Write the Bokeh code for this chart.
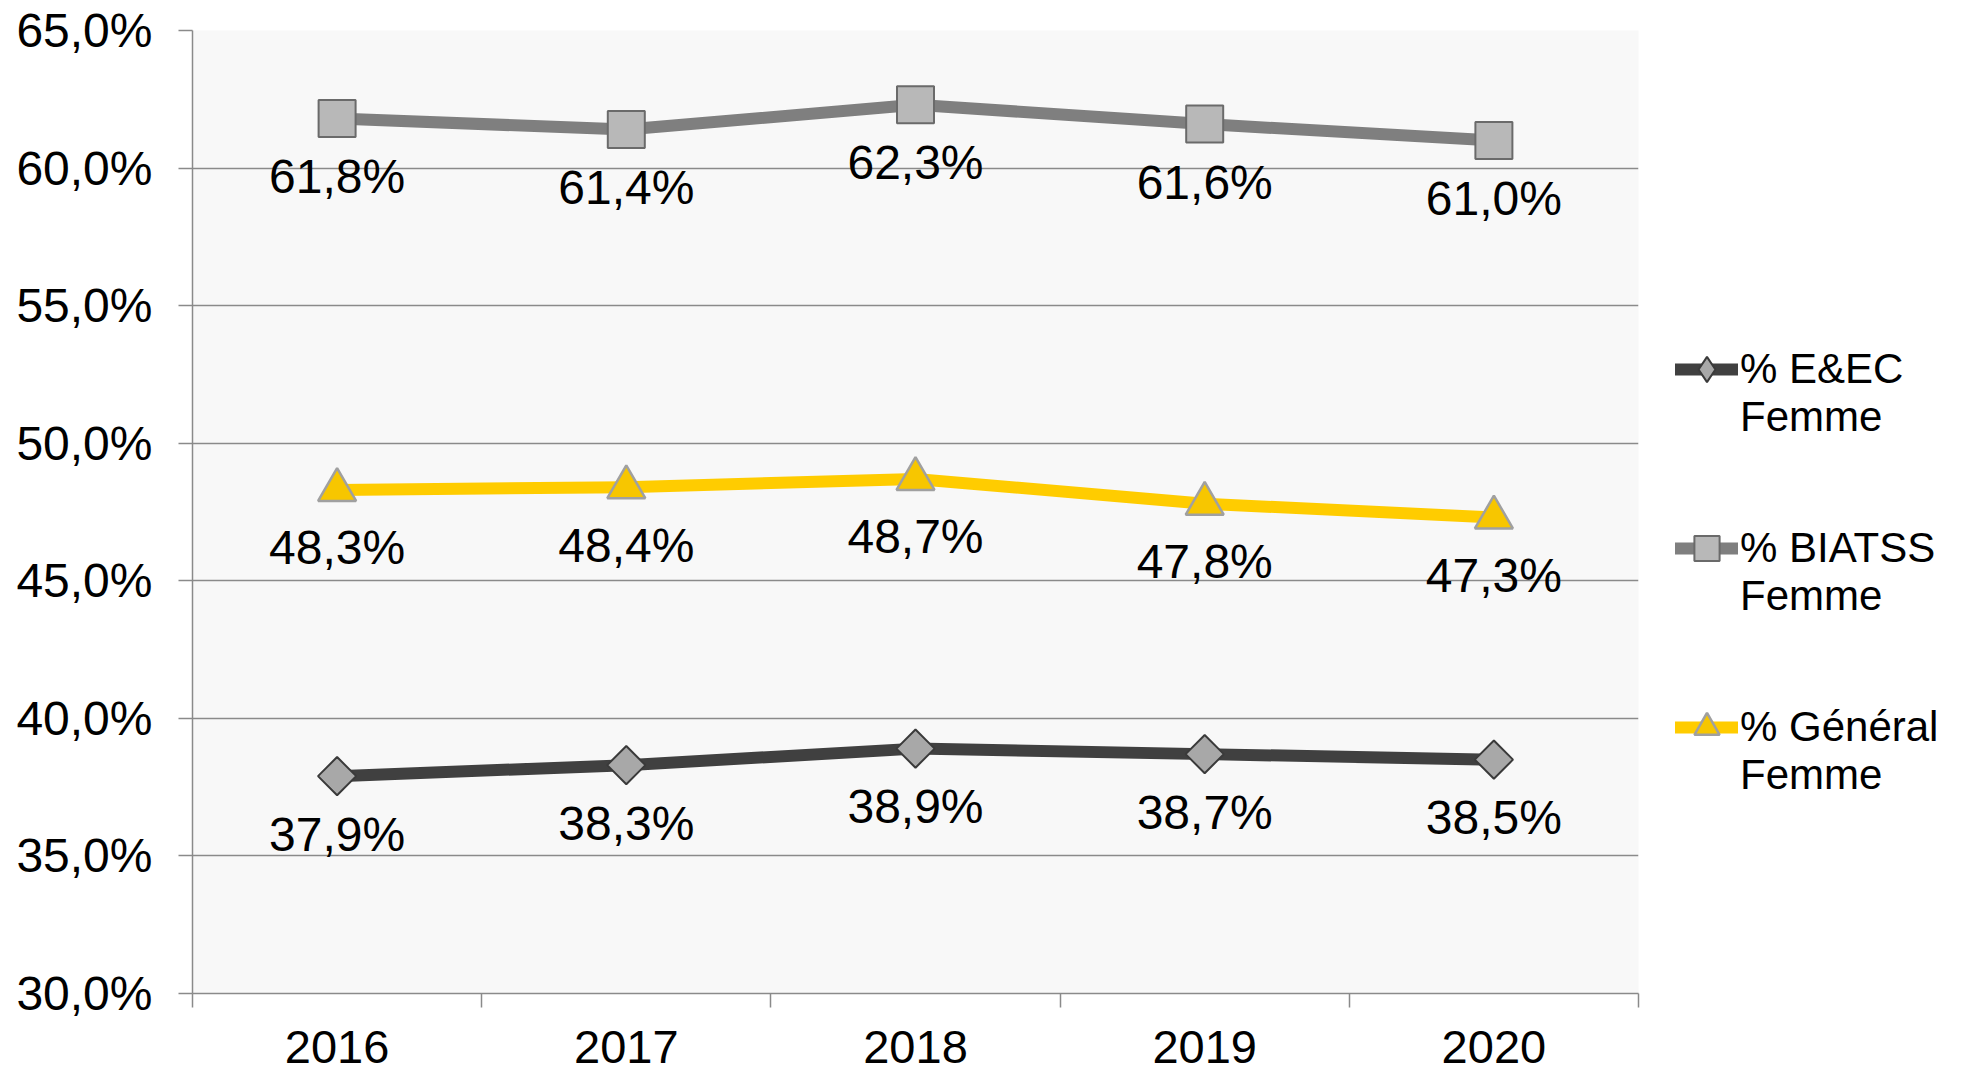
from bokeh.plotting import figure
from bokeh.models import (ColumnDataSource, Range1d, FixedTicker, Legend, LegendItem)
from bokeh.core.properties import value
from bokeh.embed import file_html
from bokeh.resources import INLINE

years = [2016, 2017, 2018, 2019, 2020]
eec = [37.9, 38.3, 38.9, 38.7, 38.5]
biatss = [61.8, 61.4, 62.3, 61.6, 61.0]
general = [48.3, 48.4, 48.7, 47.8, 47.3]
y_ticks = [30, 35, 40, 45, 50, 55, 60, 65]
y_tick_labels = ["30,0%", "35,0%", "40,0%", "45,0%", "50,0%", "55,0%", "60,0%", "65,0%"]
series_names = ["% E&EC\nFemme", "% BIATSS\nFemme", "% Général\nFemme"]

FONT = "Liberation Sans"

def fmt(v):
    return f"{v:.1f}%".replace(".", ",")

p = figure(frame_width=1446, frame_height=963,
           x_range=Range1d(2015.5, 2020.5), y_range=Range1d(30, 65),
           output_backend="svg", toolbar_location=None,
           min_border_left=192, min_border_top=30, min_border_bottom=80, min_border_right=312,
           background_fill_color="#f8f8f8", border_fill_color="white",
           outline_line_color=None)

# axes
p.xaxis.ticker = FixedTicker(ticks=years, minor_ticks=[y - 0.5 for y in years] + [years[-1] + 0.5])
p.xaxis.major_tick_line_color = None
p.xaxis.minor_tick_line_color = "#8a8a8a"
p.xaxis.minor_tick_line_width = 1.5
p.xaxis.minor_tick_out = 14
p.xaxis.minor_tick_in = 0
p.xaxis.major_label_standoff = 23
p.xaxis.axis_line_color = "#8a8a8a"
p.xaxis.axis_line_width = 1.5
p.xaxis.major_label_text_font = FONT
p.xaxis.major_label_text_font_size = "47px"
p.xaxis.major_label_text_color = "black"

p.yaxis.ticker = FixedTicker(ticks=y_ticks)
p.yaxis.major_label_overrides = {t: l for t, l in zip(y_ticks, y_tick_labels)}
p.yaxis.major_tick_out = 14
p.yaxis.major_tick_in = 0
p.yaxis.minor_tick_line_color = None
p.yaxis.major_tick_line_color = "#8a8a8a"
p.yaxis.major_tick_line_width = 1.5
p.yaxis.axis_line_color = "#8a8a8a"
p.yaxis.axis_line_width = 1.5
p.yaxis.major_label_standoff = 26
p.yaxis.major_label_text_font = FONT
p.yaxis.major_label_text_font_size = "48px"
p.yaxis.major_label_text_color = "black"

p.xgrid.grid_line_color = None
p.ygrid.ticker = FixedTicker(ticks=y_ticks)
p.ygrid.grid_line_color = "#8a8a8a"
p.ygrid.grid_line_width = 1.5

styles = [
    dict(vals=eec, line="#404040", marker="square", angle=0.785398, size=27,
         fill="#a8a8a8", mline="#3a3a3a", mwidth=2, legend_marker="diamond"),
    dict(vals=biatss, line="#7f7f7f", marker="square", angle=0.0, size=37,
         fill="#b8b8b8", mline="#6a6a6a", mwidth=2, legend_marker=None),
    dict(vals=general, line="#ffcc00", marker="triangle", angle=0.0, size=38,
         fill="#f7c600", mline="#a0a0a0", mwidth=2.5, legend_marker=None),
]

items = []
for name, st in zip(series_names, styles):
    src = ColumnDataSource(dict(x=years, y=st["vals"], lab=[fmt(v) for v in st["vals"]]))
    r_line = p.line("x", "y", source=src, line_color=st["line"], line_width=12,
                    line_join="round", line_cap="round")
    rends = [r_line]
    if st["legend_marker"]:
        r_leg = p.scatter("x", "y", source=src, marker=st["legend_marker"], size=1,
                          fill_color=st["fill"], line_color=st["mline"], line_width=st["mwidth"])
        rends.append(r_leg)
    r_mark = p.scatter("x", "y", source=src, marker=st["marker"], size=st["size"],
                       angle=st["angle"], fill_color=st["fill"], line_color=st["mline"],
                       line_width=st["mwidth"])
    if not st["legend_marker"]:
        rends.append(r_mark)
    p.text("x", "y", text="lab", source=src, text_font=value(FONT), text_font_size="48px",
           text_align="center", text_baseline="middle", y_offset=58, text_color="black")
    items.append(LegendItem(label="\u00a0\n" + name, renderers=rends))

legend = Legend(items=items, location=(37, 194), orientation="vertical",
                label_text_font=FONT, label_text_font_size="42px",
                label_text_color="black", glyph_width=63, glyph_height=66,
                label_standoff=2, spacing=35, padding=0, margin=0,
                border_line_color=None, background_fill_alpha=0)
p.add_layout(legend, "right")

open("out.html", "w").write(file_html(p, INLINE))
